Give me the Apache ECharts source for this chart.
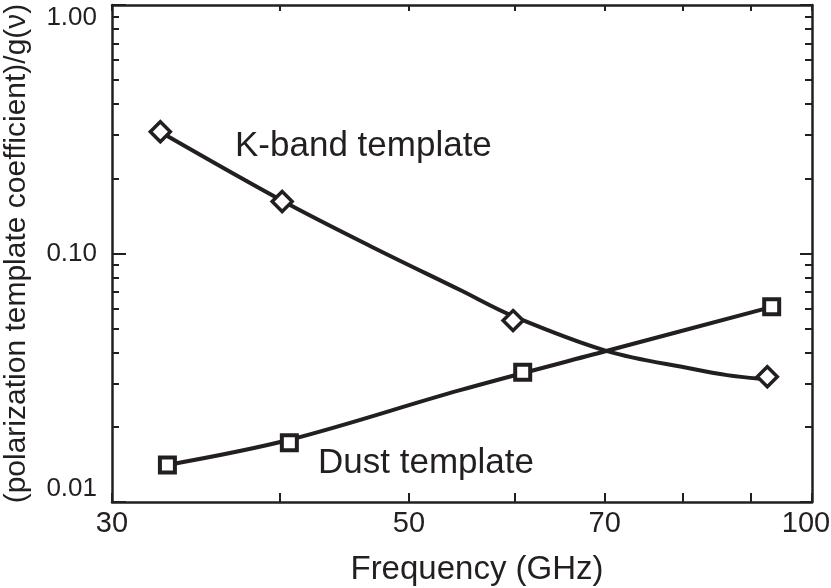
<!DOCTYPE html>
<html>
<head>
<meta charset="utf-8">
<script src="https://cdn.jsdelivr.net/npm/echarts@6/dist/echarts.min.js"></script>
<style>
html,body{margin:0;padding:0;background:#fff;}
#chart{width:831px;height:588px;}
</style>
</head>
<body>
<div id="chart"></div>
<script>
// ---- data ----
const kFreq = [32.6, 40.2, 59.8, 92.6];
const kCoef = [0.309, 0.162, 0.0537, 0.0319];
const dustFreq = [33.0, 40.7, 60.8, 93.3];
const dustCoef = [0.0141, 0.0173, 0.0333, 0.0611];
// fitted curves
const kCurveFreq = [32.6, 40.2, 46.8, 54.6, 59.8, 70.3, 81.5, 86.4, 91.5];
const kCurveCoef = [0.308, 0.163, 0.107, 0.0713, 0.0560, 0.0405, 0.0343, 0.0324, 0.0313];
const dustCurveFreq = [33.0, 40.7, 54.6, 70.3, 93.5];
const dustCurveCoef = [0.0141, 0.0178, 0.0282, 0.0406, 0.0611];
// ticks
const xMajorLabels = [30, 50, 70, 100];
const xTicks = [30, 40, 50, 60, 70, 80, 90, 100];
const yMajor = [0.01, 0.1, 1];
const yMinor = [0.02, 0.03, 0.04, 0.05, 0.06, 0.07, 0.08, 0.09, 0.2, 0.3, 0.4, 0.5, 0.6, 0.7, 0.8, 0.9];
const xTitle = 'Frequency (GHz)';
const yTitle = '(polarization template coefficient)/g(\u03bd)';
const kLabel = 'K-band template';
const dustLabel = 'Dust template';

const INK = '#231f20';
const FONT = '"Liberation Sans", Arial, Helvetica, sans-serif';

function zip(a, b) { return a.map((v, i) => [v, b[i]]); }

const chart = echarts.init(document.getElementById('chart'), null, {renderer: 'canvas'});

const lineCommon = {show: true, lineStyle: {color: INK, width: 2.5}};

const option = {
  animation: false,
  backgroundColor: '#fff',
  grid: {left: 112, right: 19, top: 5, bottom: 86, containLabel: false, outerBoundsMode: 'none'},
  xAxis: [
    {
      type: 'log', logBase: 10, min: 30, max: 100, position: 'bottom',
      axisLine: lineCommon,
      axisTick: {show: true, inside: true, length: 9, customValues: xTicks, lineStyle: {color: INK, width: 2}},
      axisLabel: {show: true, customValues: xMajorLabels, margin: 7, color: INK, fontSize: 29, fontFamily: FONT,
                  formatter: v => (Math.round(v) === 100 ? '{r|100}' : String(Math.round(v))),
                  rich: {r: {color: INK, fontSize: 29, fontFamily: FONT, padding: [0, 12, 0, 0]}}},
      splitLine: {show: false}, minorTick: {show: false},
      name: xTitle, nameLocation: 'middle', nameGap: 51,
      nameTextStyle: {color: INK, fontSize: 33, fontFamily: FONT, padding: [0, 0, 0, 30]}
    },
    {
      type: 'log', logBase: 10, min: 30, max: 100, position: 'top',
      axisLine: lineCommon,
      axisTick: {show: true, inside: true, length: 6, customValues: xTicks, lineStyle: {color: INK, width: 2}},
      axisLabel: {show: false}, splitLine: {show: false}
    }
  ],
  yAxis: [
    {
      type: 'log', logBase: 10, min: 0.01, max: 1, position: 'left',
      axisLine: lineCommon,
      axisTick: {show: true, inside: true, length: 14, customValues: yMajor, lineStyle: {color: INK, width: 2}},
      axisLabel: {show: true, customValues: yMajor, margin: 15, color: INK, fontSize: 26, fontFamily: FONT,
                  formatter: v => Number(v).toFixed(2),
                  verticalAlignMinLabel: 'bottom', verticalAlignMaxLabel: 'top'},
      splitLine: {show: false},
      name: yTitle, nameLocation: 'middle', nameGap: 80, nameRotate: 90,
      nameTextStyle: {color: INK, fontSize: 30, fontFamily: FONT}
    },
    {
      type: 'log', logBase: 10, min: 0.01, max: 1, position: 'left',
      axisLine: {show: false},
      axisTick: {show: true, inside: true, length: 7, customValues: yMinor, lineStyle: {color: INK, width: 2}},
      axisLabel: {show: false}, splitLine: {show: false}
    },
    {
      type: 'log', logBase: 10, min: 0.01, max: 1, position: 'right',
      axisLine: lineCommon,
      axisTick: {show: true, inside: true, length: 12, customValues: yMajor, lineStyle: {color: INK, width: 2}},
      axisLabel: {show: false}, splitLine: {show: false}
    },
    {
      type: 'log', logBase: 10, min: 0.01, max: 1, position: 'right',
      axisLine: {show: false},
      axisTick: {show: true, inside: true, length: 7, customValues: yMinor, lineStyle: {color: INK, width: 2}},
      axisLabel: {show: false}, splitLine: {show: false}
    }
  ],
  series: [
    {
      name: 'K-band fit', type: 'line', xAxisIndex: 0, yAxisIndex: 0,
      data: zip(kCurveFreq, kCurveCoef), smooth: 0.35, showSymbol: false, symbol: 'none',
      lineStyle: {color: INK, width: 4}, z: 2
    },
    {
      name: 'Dust fit', type: 'line', xAxisIndex: 0, yAxisIndex: 0,
      data: zip(dustCurveFreq, dustCurveCoef), smooth: 0.35, showSymbol: false, symbol: 'none',
      lineStyle: {color: INK, width: 4}, z: 2
    },
    {
      name: 'K-band template', type: 'scatter', xAxisIndex: 0, yAxisIndex: 0,
      data: zip(kFreq, kCoef), symbol: 'diamond', symbolSize: [20, 20],
      itemStyle: {color: '#fff', borderColor: INK, borderWidth: 3.5, opacity: 1}, z: 3
    },
    {
      name: 'Dust template', type: 'scatter', xAxisIndex: 0, yAxisIndex: 0,
      data: zip(dustFreq, dustCoef), symbol: 'rect', symbolSize: [15, 15],
      itemStyle: {color: '#fff', borderColor: INK, borderWidth: 4, opacity: 1}, z: 3
    }
  ],
  graphic: [
    {type: 'text', left: 235, top: 129, style: {text: kLabel, fill: INK, fontSize: 35, fontFamily: FONT}},
    {type: 'text', left: 318, top: 446, style: {text: dustLabel, fill: INK, fontSize: 35, fontFamily: FONT}}
  ]
};

chart.setOption(option);
</script>
</body>
</html>
